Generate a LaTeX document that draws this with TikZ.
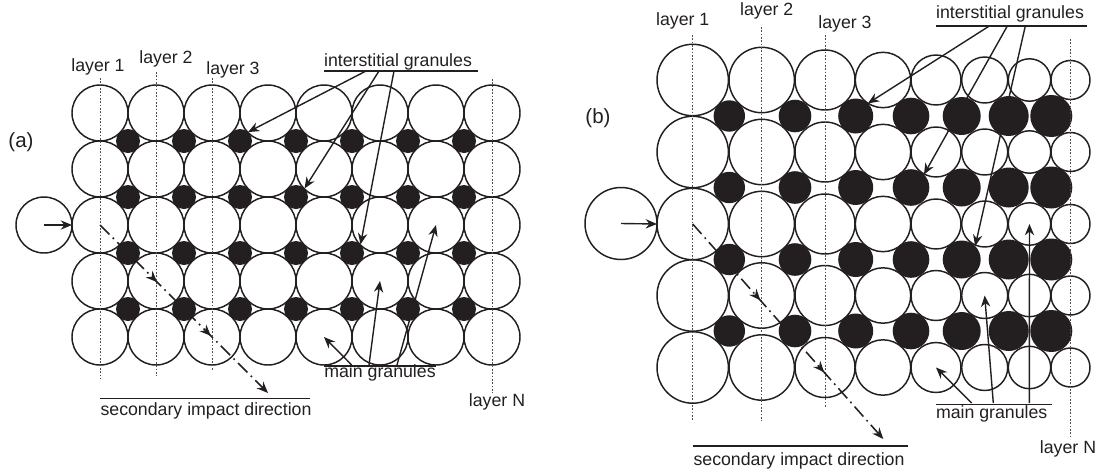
\documentclass[tikz,border=0pt]{standalone}
\usepackage{fontspec}
\setmainfont{Liberation Sans}
\usetikzlibrary{arrows.meta,decorations.markings}
\definecolor{inkblack}{HTML}{231F20}

\begin{document}
\begin{tikzpicture}[
    x=0.75pt,
    y=-0.75pt,
    font=\fontsize{13.3}{16}\selectfont,
    text=inkblack,
    main/.style={
        circle,
        draw=inkblack,
        line width=1.1pt,
        inner sep=0pt,
        outer sep=0pt,
        minimum size=#1*1.5pt
    },
    inter/.style={
        circle,
        fill=inkblack,
        inner sep=0pt,
        outer sep=0pt,
        minimum size=#1*1.5pt
    },
    label/.style={
        anchor=base,
        inner sep=0pt
    },
    tag/.style={
        label,
        font=\fontsize{15.4}{18}\selectfont
    },
    layerline/.style={
        draw=inkblack!80,
        line width=0.65pt,
        dash pattern=on 1.2pt off 1.3pt
    },
    rule/.style={
        draw=inkblack,
        line width=1.1pt
    },
    pointer/.style={
        draw=inkblack,
        line width=1.05pt,
        -{Stealth[length=8.5pt,width=7pt,inset=2.8pt]}
    },
    secondary/.style={
        draw=inkblack,
        line width=1.15pt,
        dash pattern=on 10pt off 3.5pt on 1.3pt off 3.5pt,
        -{Stealth[length=8.5pt,width=7pt,inset=2.8pt]},
        decoration={markings,
            mark=at position #1 with {\arrow{Stealth[length=8.5pt,width=7pt,inset=2.8pt]}},
            mark=at position #1*2-0.02 with {\arrow{Stealth[length=8.5pt,width=7pt,inset=2.8pt]}}},
        postaction={decorate}
    }
]
    \useasboundingbox (0,0) rectangle (1100,472);

    % Panel (a) granules
    \foreach \col/\cx in {1/100,2/156,3/212,4/268,5/324,6/380,7/436,8/492} {
        \foreach \row/\cy in {1/113,2/169,3/225,4/281,5/337} {
            \node [main=28] (ma\col-\row) at (\cx,\cy) {};
        }
    }
    \foreach \col/\cx in {1/128,2/184,3/240,4/296,5/352,6/408,7/464} {
        \foreach \row/\cy in {1/141,2/197,3/253,4/309} {
            \node [inter=12] (ia\col-\row) at (\cx,\cy) {};
        }
    }
    \node [main=28] (strikera) at (44,225) {};

    % Panel (b) granules
    \foreach \col/\cx/\cr in {1/692.7/35.7,2/761.7/32.7,3/825/30,4/883/27.7,5/936/25,6/984.7/23,7/1029.5/21.2,8/1070.5/19.5} {
        \foreach \row/\cy in {1/80,2/152,3/224,4/295.5,5/367.5} {
            \node [main=\cr] (mb\col-\row) at (\cx,\cy) {};
        }
    }
    \foreach \col/\cx/\cr in {1/729.3/15.7,2/795/16.3,3/855.7/17.5,4/911/18.3,5/961.7/19,6/1008.7/20,7/1051.3/21} {
        \foreach \row/\cy in {1/116,2/187.5,3/259.5,4/331} {
            \node [inter=\cr] (ib\col-\row) at (\cx,\cy) {};
        }
    }
    \node [main=36] (strikerb) at (621,223.5) {};

    % Panel letters and layer labels
    \node [tag] (tagA) at (21,147) {(a)};
    \node [tag] (tagB) at (598,123) {(b)};
    \node [label] (layerA1) at (98,71.7) {layer 1};
    \node [label] (layerA2) at (166,63.3) {layer 2};
    \node [label] (layerA3) at (233,74.3) {layer 3};
    \node [label] (layerAN) at (497,406) {layer N};
    \node [label] (layerB1) at (682.7,25) {layer 1};
    \node [label] (layerB2) at (766.7,15) {layer 2};
    \node [label] (layerB3) at (845,28) {layer 3};
    \node [label] (layerBN) at (1068,453) {layer N};

    % Layer lines
    \foreach \name/\x/\ya/\yb in {A1/100/78/379,A2/156/72/376,A3/212/78/370,AN/492/79/393,
                                  B1/692.7/35/421,B2/761.7/27/421,B3/825/35/408,BN/1070/39/439} {
        \coordinate (top\name) at (\x,\ya);
        \coordinate (bot\name) at (\x,\yb);
        \path [layerline] (top\name) -- (bot\name);
    }

    % Captions with their rules
    \node [label] (interA) at (398,66) {interstitial granules};
    \coordinate (interAl) at (324,71);
    \coordinate (interAr) at (478,71);
    \path [rule] (interAl) -- (interAr);
    \node [label] (mainA) at (380,377.7) {main granules};
    \coordinate (mainAl) at (324,366);
    \coordinate (mainAr) at (436,366);
    \path [rule] (mainAl) -- (mainAr);
    \node [label] (secA) at (206,415.7) {secondary impact direction};
    \coordinate (secAl) at (100,398.7);
    \coordinate (secAr) at (310,398.7);
    \path [rule] (secAl) -- (secAr);

    \node [label] (interB) at (1010,18.3) {interstitial granules};
    \coordinate (interBl) at (936,26);
    \coordinate (interBr) at (1087,26);
    \path [rule] (interBl) -- (interBr);
    \node [label] (mainB) at (991.7,418.3) {main granules};
    \coordinate (mainBl) at (936,404.3);
    \coordinate (mainBr) at (1051.7,404.3);
    \path [rule] (mainBl) -- (mainBr);
    \node [label] (secB) at (799,465) {secondary impact direction};
    \coordinate (secBl) at (692.7,446);
    \coordinate (secBr) at (907.7,446);
    \path [rule] (secBl) -- (secBr);

    % Pointers of panel (a)
    \coordinate (ia1) at (366,71);
    \coordinate (ia2) at (379,71);
    \coordinate (ia3) at (394,71);
    \path [pointer] (ia1) -- (ia3-1.48);
    \path [pointer] (ia2) -- (ia4-2.45);
    \path [pointer] (ia3) -- (ia5-3.45);
    \coordinate (ma1) at (351.7,365);
    \coordinate (ma2) at (369,365);
    \coordinate (ma3) at (397,365);
    \path [pointer] (ma1) -- (ma5-5.center);
    \path [pointer] (ma2) -- (ma6-4.center);
    \path [pointer] (ma3) -- (ma7-3.center);

    % Pointers of panel (b)
    \coordinate (ib1) at (989.3,26);
    \coordinate (ib2) at (1007.3,26);
    \coordinate (ib3) at (1025.3,26);
    \path [pointer] (ib1) -- (ib3-1.46);
    \path [pointer] (ib2) -- (ib4-2.45);
    \path [pointer] (ib3) -- (ib5-3.45);
    \coordinate (mb1) at (971.7,403);
    \coordinate (mb2) at (993.3,403);
    \coordinate (mb3) at (1029.3,403);
    \path [pointer] (mb1) -- (mb5-5.center);
    \path [pointer] (mb2) -- (mb6-4.center);
    \path [pointer] (mb3) -- (mb7-3.center);

    % Impact arrows
    \path [pointer] (strikera.center) -- (ma1-3.west);
    \path [pointer] (strikerb.center) -- (mb1-3.west);

    % Secondary impact direction
    \coordinate (endA) at (268,393);
    \coordinate (endB) at (883.3,439);
    \path [secondary=0.34] (ma1-3.center) -- (endA);
    \path [secondary=0.355] (mb1-3.center) -- (endB);

\end{tikzpicture}
\end{document}
